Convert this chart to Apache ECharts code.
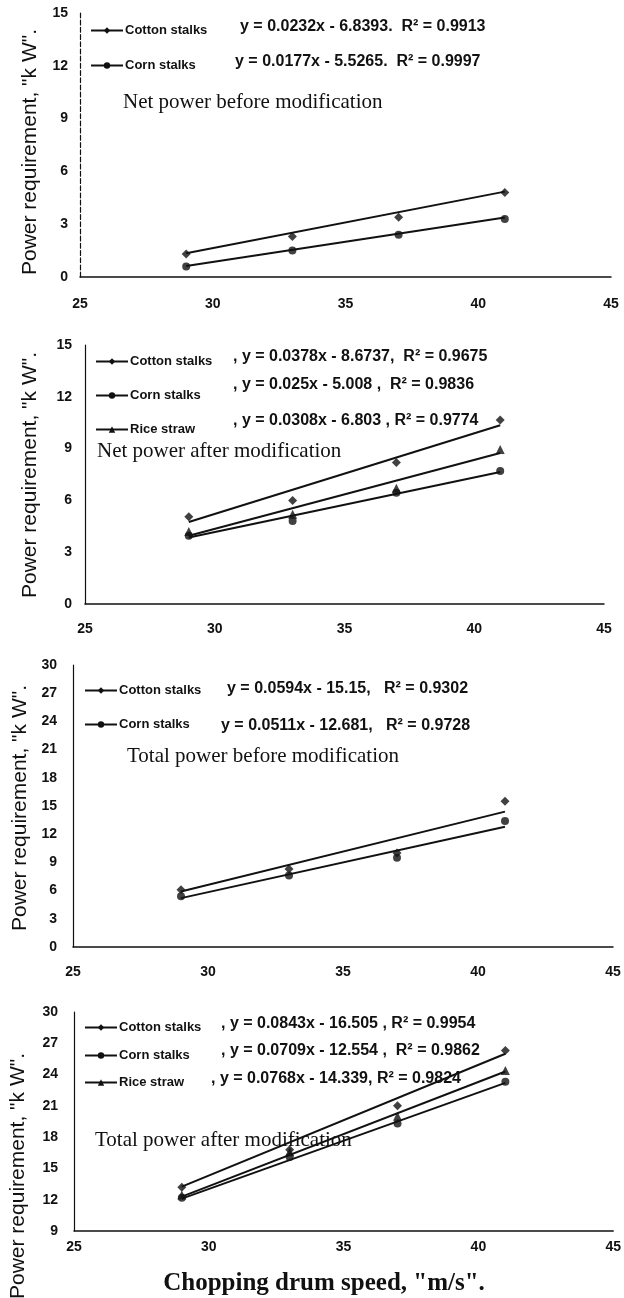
<!DOCTYPE html>
<html>
<head>
<meta charset="utf-8">
<script src="https://cdn.jsdelivr.net/npm/echarts@6/dist/echarts.min.js"></script>
<style>
  html, body { margin: 0; padding: 0; background: #fff; }
  #main { width: 624px; height: 1298px; }
</style>
</head>
<body>
<div id="main"></div>
<script>
// drum speed, m/s
var speeds = [29, 33, 37, 41];
var trendX = [29, 41];

// net power before modification
var netBeforeCotton = [1.3, 2.3, 3.4, 4.8];
var netBeforeCorn = [0.6, 1.5, 2.4, 3.3];
var netBeforeCottonTrend = [1.35, 4.85];
var netBeforeCornTrend = [0.62, 3.38];

// net power after modification
var netAfterCotton = [5.05, 6.0, 8.2, 10.65];
var netAfterCorn = [3.95, 4.8, 6.45, 7.7];
var netAfterRice = [4.2, 5.2, 6.7, 8.95];
var netAfterCottonTrend = [4.75, 10.35];
var netAfterCornTrend = [3.85, 7.65];
var netAfterRiceTrend = [3.95, 8.75];

// total power before modification
var totBeforeCotton = [6.1, 8.3, 10.0, 15.5];
var totBeforeCorn = [5.4, 7.6, 9.5, 13.4];
var totBeforeCottonTrend = [5.9, 14.4];
var totBeforeCornTrend = [5.2, 12.8];

// total power after modification
var totAfterCotton = [13.2, 16.8, 21.0, 26.3];
var totAfterCorn = [12.2, 16.1, 19.3, 23.3];
var totAfterRice = [12.45, 16.6, 20.0, 24.4];
var totAfterCottonTrend = [13.25, 26.0];
var totAfterCornTrend = [12.1, 23.2];
var totAfterRiceTrend = [12.3, 24.3];

var xTicks = [25, 30, 35, 40, 45];

var chart = echarts.init(document.getElementById('main'));

var black = '#111';
var sym = { cotton: 'diamond', corn: 'circle', rice: 'triangle' };
var symSize = { cotton: 9, corn: 8, rice: 9 };

function pts(xs, ys) {
    return xs.map(function (x, i) { return [x, ys[i]]; });
}

// grid boxes in pixels
var grids = [
    { left: 80, top: 13, width: 531, height: 264 },
    { left: 85, top: 345, width: 519, height: 259 },
    { left: 73, top: 665, width: 540, height: 282 },
    { left: 74, top: 1012, width: 542, height: 219 }
];
var yRanges = [[0, 15], [0, 15], [0, 30], [9, 30]];
var xMargins = [20, 18, 18, 9];
var yMargins = [12, 13, 16, 16];

var xAxes = [], yAxes = [];
grids.forEach(function (g, i) {
    xAxes.push({
        type: 'value', gridIndex: i, min: xTicks[0], max: xTicks[xTicks.length - 1], interval: 5,
        axisLine: { lineStyle: { color: black, width: 1.5 } },
        axisTick: { show: false },
        splitLine: { show: false },
        axisLabel: { color: black, fontFamily: 'Liberation Sans', fontWeight: 'bold', fontSize: 14, margin: xMargins[i] }
    });
    yAxes.push({
        type: 'value', gridIndex: i, min: yRanges[i][0], max: yRanges[i][1], interval: 3,
        axisLine: { show: true, lineStyle: { color: black, width: 1.2, type: i === 0 ? 'dashed' : 'solid' } },
        axisTick: { show: false },
        splitLine: { show: false },
        axisLabel: { color: black, fontFamily: 'Liberation Sans', fontWeight: 'bold', fontSize: 14, margin: yMargins[i] }
    });
});

var series = [];
function addCrop(gi, name, kind, trend, data) {
    series.push({
        name: name, type: 'line', xAxisIndex: gi, yAxisIndex: gi,
        data: pts(trendX, trend),
        symbol: sym[kind], symbolSize: symSize[kind], showSymbol: false,
        lineStyle: { color: black, width: 2 }, itemStyle: { color: black },
        silent: true
    });
    series.push({
        type: 'scatter', xAxisIndex: gi, yAxisIndex: gi,
        data: pts(speeds, data),
        symbol: sym[kind], symbolSize: symSize[kind],
        itemStyle: { color: black }
    });
}
addCrop(0, 'Cotton stalks', 'cotton', netBeforeCottonTrend, netBeforeCotton);
addCrop(0, 'Corn stalks', 'corn', netBeforeCornTrend, netBeforeCorn);
addCrop(1, 'Cotton stalks', 'cotton', netAfterCottonTrend, netAfterCotton);
addCrop(1, 'Corn stalks', 'corn', netAfterCornTrend, netAfterCorn);
addCrop(1, 'Rice straw', 'rice', netAfterRiceTrend, netAfterRice);
addCrop(2, 'Cotton stalks', 'cotton', totBeforeCottonTrend, totBeforeCotton);
addCrop(2, 'Corn stalks', 'corn', totBeforeCornTrend, totBeforeCorn);
addCrop(3, 'Cotton stalks', 'cotton', totAfterCottonTrend, totAfterCotton);
addCrop(3, 'Corn stalks', 'corn', totAfterCornTrend, totAfterCorn);
addCrop(3, 'Rice straw', 'rice', totAfterRiceTrend, totAfterRice);

// one legend per row so each can sit where the reference has it
function leg(name, x, y) {
    return {
        data: [name], left: x, top: y - 4, itemWidth: 32, itemHeight: 8, itemGap: 0, padding: 0,
        selectedMode: false,
        textStyle: { color: black, fontFamily: 'Liberation Sans', fontWeight: 'bold', fontSize: 13, padding: [0, 0, 0, -3] }
    };
}
var legends = [
    leg('Cotton stalks', 90, 28), leg('Corn stalks', 90, 63),
    leg('Cotton stalks', 95, 359), leg('Corn stalks', 95, 393), leg('Rice straw', 95, 427),
    leg('Cotton stalks', 84, 688), leg('Corn stalks', 84, 722),
    leg('Cotton stalks', 84, 1025), leg('Corn stalks', 84, 1053), leg('Rice straw', 84, 1080)
];

function eq(txt, x, y) {
    return { type: 'text', left: x, top: y - 9, style: { text: txt, fill: black, font: 'bold 16px "Liberation Sans"' } };
}
function ttl(txt, x, y) {
    return { type: 'text', left: x, top: y - 12, style: { text: txt, fill: black, font: '21px "Liberation Serif"' } };
}
function yName(cx, cy) {
    return {
        type: 'text', x: cx, y: cy, rotation: Math.PI / 2,
        style: { text: 'Power requirement, "k W".', fill: black, font: '21px "Liberation Sans"', align: 'center', verticalAlign: 'middle' }
    };
}

var graphics = [
    eq('y = 0.0232x - 6.8393.  R\u00b2 = 0.9913', 240, 28),
    eq('y = 0.0177x - 5.5265.  R\u00b2 = 0.9997', 235, 63),
    ttl('Net power before modification', 123, 104),
    eq(', y = 0.0378x - 8.6737,  R\u00b2 = 0.9675', 233, 358),
    eq(', y = 0.025x - 5.008 ,  R\u00b2 = 0.9836', 233, 386),
    eq(', y = 0.0308x - 6.803 , R\u00b2 = 0.9774', 233, 422),
    ttl('Net power after modification', 97, 453),
    eq('y = 0.0594x - 15.15,   R\u00b2 = 0.9302', 227, 690),
    eq('y = 0.0511x - 12.681,   R\u00b2 = 0.9728', 221, 727),
    ttl('Total power before modification', 127, 758),
    eq(', y = 0.0843x - 16.505 , R\u00b2 = 0.9954', 221, 1025),
    eq(', y = 0.0709x - 12.554 ,  R\u00b2 = 0.9862', 221, 1052),
    eq(', y = 0.0768x - 14.339, R\u00b2 = 0.9824', 211, 1080),
    ttl('Total power after modification', 95, 1142),
    yName(30, 152), yName(30, 475), yName(20, 808), yName(18, 1176),
    {
        type: 'text', x: 324, y: 1284,
        style: { text: 'Chopping drum speed, "m/s".', fill: black, font: 'bold 25px "Liberation Serif"', align: 'center', verticalAlign: 'middle' }
    }
];

chart.setOption({
    backgroundColor: '#fff',
    animation: false,
    grid: grids,
    xAxis: xAxes,
    yAxis: yAxes,
    legend: legends,
    series: series,
    graphic: graphics
});
</script>
</body>
</html>
